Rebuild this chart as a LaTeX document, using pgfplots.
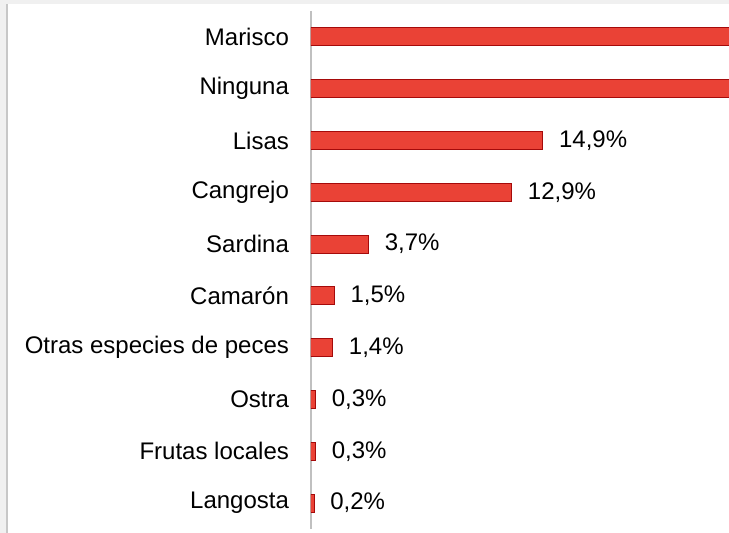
\documentclass[border=0pt]{standalone}
\usepackage{fontspec}
\setmainfont{Liberation Sans}
\usepackage{pgfplots}
\pgfplotsset{compat=1.18}
\definecolor{barfill}{RGB}{234,66,54}
\definecolor{baredge}{RGB}{165,10,10}
\definecolor{axgray}{RGB}{192,192,192}
\begin{document}
\begin{tikzpicture}[x=0.5pt,y=0.5pt]
\fill[black!6] (0,0) rectangle (729,533);
\fill[white] (8,0) rectangle (729,529);
\fill[black!22] (6,0) rectangle (8,529);
\begin{axis}[
  at={(155.5pt,2pt)}, anchor=south west,
  scale only axis, width=209pt, height=259pt,
  xbar, bar width=9pt, bar shift=0pt,
  xmin=0, xmax=26.85,
  ymin=-0.5, ymax=9.5,
  y dir=reverse,
  ytick={0,...,9},
  yticklabels={Marisco,Ninguna,{Lisas\hspace{3.3pt}},Cangrejo,Sardina,Camarón,Otras especies de peces,Ostra,Frutas locales,Langosta},
  yticklabel style={font=\fontsize{12}{14}\selectfont, xshift=-7.5pt},
  major tick length=0pt,
  xtick=\empty,
  axis x line=none,
  axis y line*=left,
  y axis line style={axgray, line width=1pt, -},
  clip=true,
]
\addplot[fill=barfill, draw=baredge, line width=0.5pt,
  nodes near coords={\pgfmathprintnumber[fixed,fixed zerofill,precision=1,use comma,assume math mode=true]{\pgfplotspointmeta}\%},
  nodes near coords style={font=\fontsize{12}{14}\selectfont, xshift=4.5pt, black}]
  coordinates {(14.9,2) (12.9,3) (3.7,4) (1.5,5) (1.4,6) (0.3,7) (0.3,8) (0.2,9)};
\addplot[fill=barfill, draw=baredge, line width=0.5pt]
  coordinates {(40,0) (35,1)};
\end{axis}
\end{tikzpicture}
\end{document}
